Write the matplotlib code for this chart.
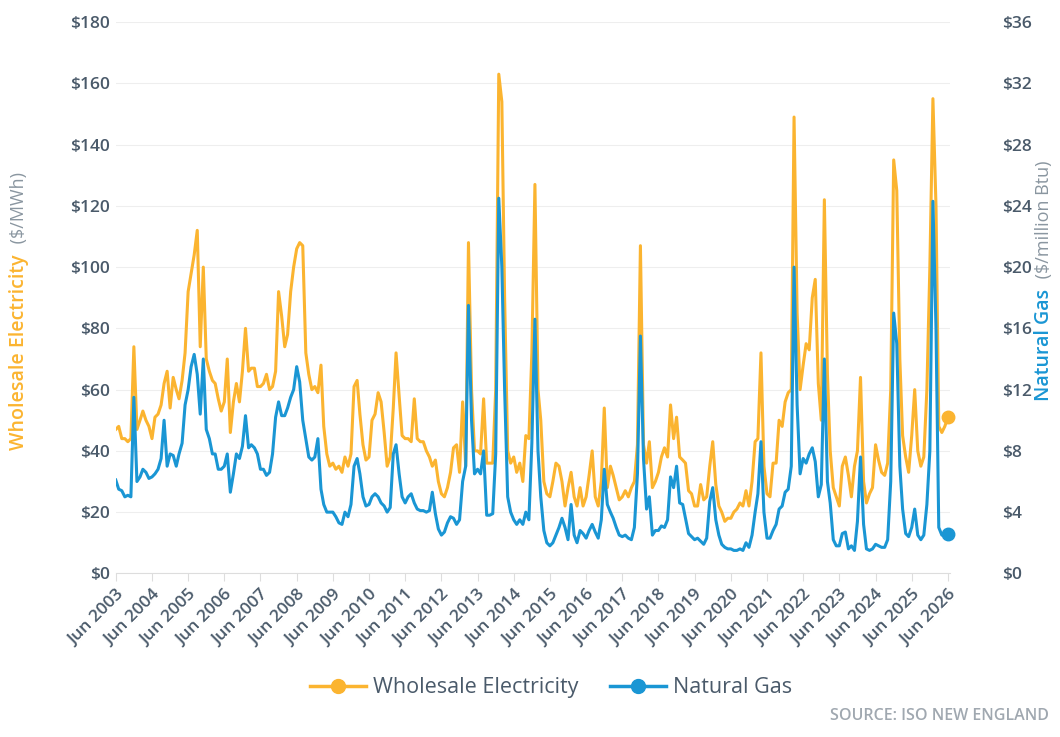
import matplotlib
matplotlib.use("Agg")
import matplotlib.pyplot as plt
import numpy as np
import pandas as pd

plt.rcParams['font.family'] = ['Open Sans', 'DejaVu Sans']

# Monthly wholesale electricity ($/MWh), Jun 2003 - Jun 2026
elec = [
    47, 48, 44, 44, 43, 44, 74, 47, 50, 53, 50, 48,          # Jun03-May04
    44, 51, 52, 55, 62, 66, 54, 64, 60, 57, 63, 72,          # Jun04-May05
    92, 98, 104, 112, 74, 100, 70, 66, 63, 62, 57, 53,       # Jun05-May06
    56, 70, 46, 56, 62, 56, 66, 80, 66, 67, 67, 61,          # Jun06-May07
    61, 62, 65, 60, 61, 66, 92, 84, 74, 78, 92, 100,         # Jun07-May08
    106, 108, 107, 72, 65, 60, 61, 59, 68, 48, 39, 35,       # Jun08-May09
    36, 34, 35, 33, 38, 35, 39, 61, 63, 52, 42, 37,          # Jun09-May10
    38, 50, 52, 59, 56, 46, 35, 38, 54, 72, 58, 45,          # Jun10-May11
    44, 44, 43, 57, 44, 43, 43, 40, 38, 35, 37, 30,          # Jun11-May12
    26, 25, 28, 33, 41, 42, 33, 56, 35, 108, 60, 40,         # Jun12-May13
    40, 39, 57, 36, 36, 36, 60, 163, 154, 90, 40, 36,        # Jun13-May14
    38, 33, 36, 30, 45, 44, 72, 127, 60, 50, 30, 26,         # Jun14-May15
    25, 30, 36, 35, 30, 22, 28, 33, 25, 22, 28, 22,          # Jun15-May16
    25, 32, 40, 25, 22, 30, 54, 28, 35, 32, 28, 24,          # Jun16-May17
    25, 27, 25, 28, 30, 42, 107, 42, 36, 43, 28, 30,         # Jun17-May18
    33, 38, 41, 38, 55, 44, 51, 38, 37, 36, 27, 26,          # Jun18-May19
    22, 22, 29, 24, 25, 35, 43, 29, 22, 20, 17, 18,          # Jun19-May20
    18, 20, 21, 23, 22, 27, 22, 30, 43, 44, 72, 35,          # Jun20-May21
    26, 25, 36, 36, 50, 48, 56, 59, 60, 149, 85, 60,         # Jun21-May22
    68, 75, 73, 90, 96, 62, 50, 122, 65, 40, 28, 25,         # Jun22-May23
    22, 35, 38, 32, 25, 35, 40, 64, 30, 23, 26, 28,          # Jun23-May24
    42, 37, 33, 32, 36, 60, 135, 125, 70, 45, 38, 33,        # Jun24-May25
    45, 60, 40, 35, 38, 60, 100, 155, 120, 48, 46, 48,       # Jun25-May26
    51,                                                      # Jun26
]

# Monthly natural gas ($/million Btu)
gas = [
    6.1, 5.5, 5.4, 5.0, 5.1, 5.0, 11.5, 6.0, 6.3, 6.8, 6.6, 6.2,
    6.3, 6.5, 6.8, 7.5, 10.0, 7.0, 7.8, 7.7, 7.0, 7.8, 8.5, 11.0,
    12.0, 13.5, 14.3, 13.0, 10.4, 14.0, 9.4, 8.8, 7.8, 7.8, 6.8, 6.8,
    7.0, 7.8, 5.3, 6.5, 7.8, 7.5, 8.3, 10.3, 8.2, 8.4, 8.2, 7.8,
    6.8, 6.8, 6.4, 6.6, 7.8, 10.2, 11.2, 10.3, 10.3, 10.8, 11.5, 12.0,
    13.5, 12.5, 10.0, 8.8, 7.6, 7.4, 7.6, 8.8, 5.5, 4.5, 4.0, 4.0,
    4.0, 3.7, 3.3, 3.2, 4.0, 3.7, 4.5, 7.0, 7.5, 6.5, 5.0, 4.4,
    4.5, 5.0, 5.2, 5.0, 4.6, 4.4, 4.0, 4.3, 7.8, 8.4, 6.5, 5.0,
    4.6, 5.0, 5.2, 4.6, 4.2, 4.1, 4.1, 4.0, 4.1, 5.3, 3.9, 2.9,
    2.5, 2.7, 3.3, 3.7, 3.6, 3.2, 3.5, 6.0, 7.0, 17.5, 10.0, 6.5,
    6.8, 6.5, 8.0, 3.8, 3.8, 3.9, 7.8, 24.5, 20.0, 12.0, 5.0, 4.0,
    3.5, 3.2, 3.5, 3.2, 4.0, 3.5, 8.5, 16.6, 8.0, 5.0, 2.8, 2.0,
    1.8, 2.0, 2.5, 3.0, 3.6, 3.0, 2.2, 4.5, 2.5, 2.0, 2.8, 2.6,
    2.3, 2.8, 3.2, 2.7, 2.3, 3.5, 6.8, 4.5, 4.0, 3.6, 3.0, 2.5,
    2.4, 2.5, 2.3, 2.2, 3.0, 6.5, 15.5, 7.5, 4.2, 5.0, 2.5, 2.8,
    2.8, 3.1, 3.0, 3.5, 6.3, 5.6, 7.0, 4.6, 4.5, 3.6, 2.6, 2.4,
    2.2, 2.3, 2.1, 1.9, 2.3, 4.7, 5.6, 3.5, 2.5, 1.9, 1.7, 1.6,
    1.6, 1.5, 1.5, 1.6, 1.5, 2.0, 1.7, 2.5, 4.0, 5.2, 8.6, 4.0,
    2.3, 2.3, 2.8, 3.2, 4.2, 4.4, 5.3, 5.5, 7.0, 20.0, 11.0, 6.5,
    7.5, 7.2, 7.8, 8.2, 7.3, 5.0, 5.8, 14.0, 6.0, 4.6, 2.2, 1.8,
    1.8, 2.6, 2.7, 1.6, 1.8, 1.5, 3.4, 7.6, 3.2, 1.6, 1.5, 1.6,
    1.9, 1.8, 1.7, 1.7, 2.2, 6.0, 17.0, 15.0, 7.0, 4.2, 2.6, 2.4,
    3.0, 4.2, 2.5, 2.2, 2.5, 4.5, 8.0, 24.3, 16.0, 3.0, 2.5, 2.5,
    2.6,
]

dates = pd.date_range("2003-06-01", periods=len(elec), freq="MS")
tick_years = list(range(2003, 2027))
tick_labels = [f"Jun {y}" for y in tick_years]

ORANGE = "#FBB430"
BLUE = "#1A96D4"
TXT = "#4A5A6A"

fig = plt.figure(figsize=(10.6, 7.37), dpi=100)
ax = fig.add_axes([0.109, 0.222, 0.787, 0.748])
ax2 = ax.twinx()

ax.plot(dates, elec, color=ORANGE, lw=2.2, zorder=3)
ax2.plot(dates, gas, color=BLUE, lw=2.2, zorder=3)
ax.plot(dates[-1:], elec[-1:], 'o', color=ORANGE, ms=9, zorder=4, clip_on=False)
ax2.plot(dates[-1:], gas[-1:], 'o', color=BLUE, ms=9, zorder=4, clip_on=False)

ax.set_ylim(0, 180)
ax2.set_ylim(0, 36)
ax.set_yticks(np.arange(0, 181, 20))
ax2.set_yticks(np.arange(0, 37, 4))
ax.set_yticklabels([f"${v}" for v in range(0, 181, 20)])
ax2.set_yticklabels([f"${v}" for v in range(0, 37, 4)])
ax.grid(axis='y', color="#EEEEEE", lw=0.8)
ax.set_axisbelow(True)

tick_dates = pd.to_datetime([f"{y}-06-01" for y in tick_years])
ax.set_xticks(tick_dates)
ax.set_xticklabels(tick_labels, rotation=45, ha='right', rotation_mode='anchor')
ax.set_xlim(pd.Timestamp("2003-06-01") - pd.Timedelta(days=2), pd.Timestamp("2026-06-20"))

for a in (ax, ax2):
    for s in a.spines.values():
        s.set_visible(False)
    a.tick_params(axis='y', length=0, labelsize=12.5, labelcolor=TXT, pad=4)
ax2.tick_params(axis='y', pad=38)
ax.spines['bottom'].set_visible(True)
ax.spines['bottom'].set_color("#DDDDDD")
ax.tick_params(axis='x', length=6, color="#DDDDDD", labelsize=12.5, labelcolor=TXT)
for t in ax.get_yticklabels() + ax2.get_yticklabels() + ax.get_xticklabels():
    t.set_fontweight('semibold')

fig.text(0.018, 0.655, "Wholesale Electricity", color=ORANGE, fontsize=14, rotation=90,
         ha='center', va='top', fontweight='semibold')
fig.text(0.018, 0.663, " ($/MWh)", color="#8A96A0", fontsize=13, rotation=90,
         ha='center', va='bottom')
fig.text(0.985, 0.608, "Natural Gas", color=BLUE, fontsize=14, rotation=90,
         ha='center', va='top', fontweight='semibold')
fig.text(0.985, 0.616, " ($/million Btu)", color="#8A96A0", fontsize=13, rotation=90,
         ha='center', va='bottom')

from matplotlib.lines import Line2D
handles = [Line2D([], [], color=ORANGE, lw=2.5, marker='o', ms=10, markevery=[1]),
           Line2D([], [], color=BLUE, lw=2.5, marker='o', ms=10, markevery=[1])]
leg = fig.legend(handles, ["Wholesale Electricity", "Natural Gas"], loc='center',
                 bbox_to_anchor=(0.52, 0.067), ncol=2, frameon=False, fontsize=15.5,
                 handlelength=2.6, columnspacing=1.5, handletextpad=0.3)
for t in leg.get_texts():
    t.set_color(TXT)

fig.text(0.99, 0.018, "SOURCE: ISO NEW ENGLAND", color="#A0A8B0", fontsize=11.5,
         ha='right', va='bottom', fontweight='semibold')

fig.savefig("out.png", dpi=100)
